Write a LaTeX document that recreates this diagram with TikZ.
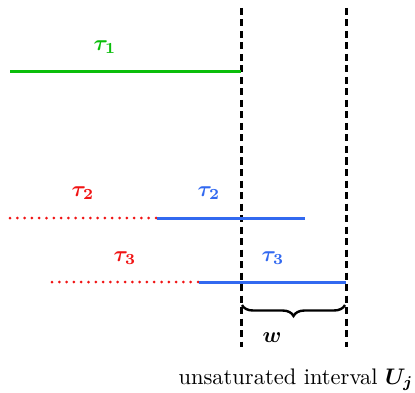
\documentclass[tikz,border=0pt]{standalone}
\usepackage{amsmath,bm}
\usetikzlibrary{decorations.pathreplacing}
\definecolor{tgreen}{RGB}{10,190,10}
\definecolor{tred}{RGB}{240,20,20}
\definecolor{tblue}{RGB}{50,105,240}
\newcommand{\biglab}[1]{\scalebox{2.2}{$\bm{#1}$}}
\begin{document}
\begin{tikzpicture}[x=1pt,y=-1pt,
  vline/.style={line width=3pt,dash pattern=on 7pt off 4.5pt},
  solidseg/.style={line width=3pt},
  dotseg/.style={line width=3pt,line cap=round,dash pattern=on 0pt off 7.3pt},
]
\useasboundingbox (0,0) rectangle (415,393);
\coordinate (v1t) at (241,8); \coordinate (v1b) at (241,347);
\coordinate (v2t) at (346,8); \coordinate (v2b) at (346,347);
\draw[vline] (v1t) -- (v1b);
\draw[vline] (v2t) -- (v2b);
% tau1
\coordinate (g1) at (10,72); \coordinate (g2) at (241,72);
\draw[solidseg,tgreen] (g1) -- (g2);
\node[text=tgreen] (t1) at (105,47) {\biglab{\tau_1}};
% tau2
\coordinate (r2a) at (10,218); \coordinate (r2b) at (157,218); \coordinate (b2b) at (305,218);
\draw[dotseg,tred] (r2a) -- (r2b);
\draw[solidseg,tblue] (r2b) -- (b2b);
\node[text=tred] (t2r) at (83,193) {\biglab{\tau_2}};
\node[text=tblue] (t2b) at (209,193) {\biglab{\tau_2}};
% tau3
\coordinate (r3a) at (52,282); \coordinate (r3b) at (199,282); \coordinate (b3b) at (346,282);
\draw[dotseg,tred] (r3a) -- (r3b);
\draw[solidseg,tblue] (r3b) -- (b3b);
\node[text=tred] (t3r) at (125,258) {\biglab{\tau_3}};
\node[text=tblue] (t3b) at (273,258) {\biglab{\tau_3}};
% brace
\coordinate (br1) at (242,305); \coordinate (br2) at (345,305);
\draw[line width=2.4pt,decorate,decoration={brace,mirror,amplitude=11pt}] (br1) -- (br2);
\node (w) at (272,338) {\biglab{w}};
\node (ui) at (296,380) {\scalebox{2.25}{unsaturated interval $\bm{U_j}$}};
\end{tikzpicture}
\end{document}
